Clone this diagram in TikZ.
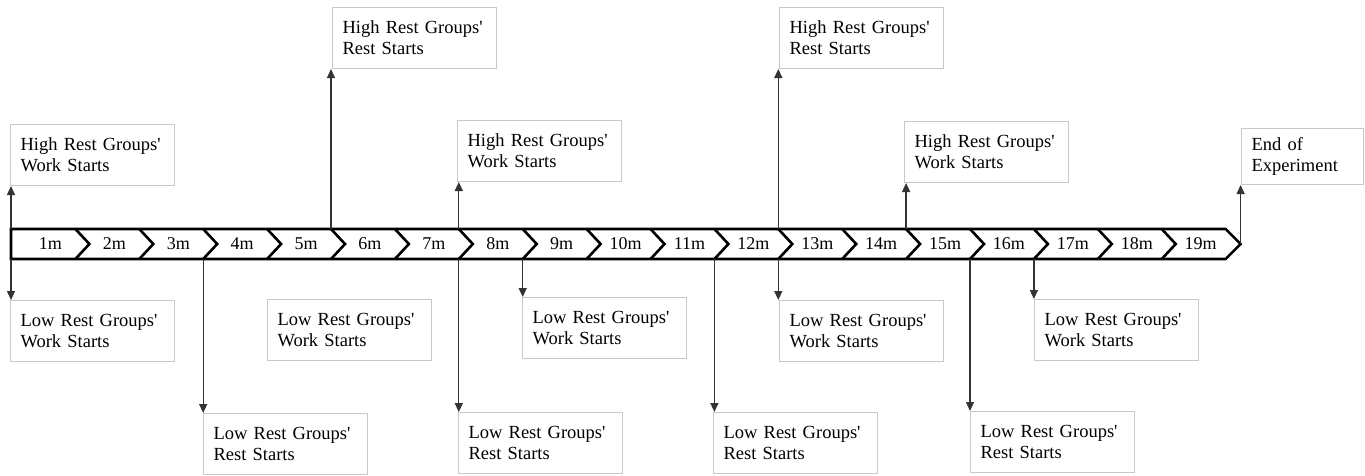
\documentclass[tikz,border=0pt]{standalone}
\usepackage{fontspec}
\setmainfont{Liberation Serif}
\usetikzlibrary{arrows.meta,positioning,calc}
\definecolor{boxgr}{HTML}{C8C8C8}
\definecolor{arr}{HTML}{333333}
\newcommand{\q}{\textquotesingle}

\begin{document}
\begin{tikzpicture}[x=1pt,y=-1pt,
   evbox/.style={draw=boxgr,line width=1.2pt,fill=white,
                 font=\fontsize{18.5}{21.5}\selectfont,align=left,
                 text width=144pt,inner xsep=10pt,inner ysep=4pt,minimum height=61pt},
   endbox/.style={evbox,text width=102pt,minimum height=56pt},
   tick/.style={draw=arr,line width=1.3pt,-{Triangle[length=9pt,width=8pt]}},
   seg/.style={font=\fontsize{18}{20}\selectfont}]
  \useasboundingbox (0,0) rectangle (1365,475);
  % timeline bar
  \def\dx{63.9}
  \coordinate (t0) at (11,229);
  \coordinate (b0) at (11,259);
  \foreach \k in {1,...,19}{
    \coordinate (t\k) at ({11.5+\dx*\k},229);
    \coordinate (b\k) at ({11.5+\dx*\k},259);
  }
  \coordinate (tip) at ($(t19)!0.5!(b19)+(15,0)$);
  \draw[line width=2.6pt,line join=miter] (t0) -- (t19) -- (tip) -- (b19) -- (b0) -- cycle;
  \foreach \k in {1,...,18}{
    \draw[line width=2.6pt] (t\k) -- ($(t\k)!0.5!(b\k)+(14,0)$) -- (b\k);
  }
  \foreach \k in {1,...,19}{
    \node[seg] (m\k) at ({11.5+\dx*(\k-0.5)+7},244) {\k m};
  }
  % events above
  \node[evbox,anchor=south west] (hw1) at (10,186) {High Rest Groups\q\\Work Starts};
  \node[evbox,anchor=south west] (hr1) at (332,69) {High Rest Groups\q\\Rest Starts};
  \node[evbox,anchor=south west] (hw2) at (457,182) {High Rest Groups\q\\Work Starts};
  \node[evbox,anchor=south west] (hr2) at (779,69) {High Rest Groups\q\\Rest Starts};
  \node[evbox,anchor=south west] (hw3) at (904,183) {High Rest Groups\q\\Work Starts};
  \node[endbox,anchor=south west] (end) at (1241,185) {End of\\Experiment};
  % events below
  \node[evbox,anchor=north west] (lw1) at (10,300) {Low Rest Groups\q\\Work Starts};
  \node[evbox,anchor=north west] (lr1) at (203,413) {Low Rest Groups\q\\Rest Starts};
  \node[evbox,anchor=north west] (lw2) at (267,299) {Low Rest Groups\q\\Work Starts};
  \node[evbox,anchor=north west] (lr2) at (458,412) {Low Rest Groups\q\\Rest Starts};
  \node[evbox,anchor=north west] (lw3) at (522,297) {Low Rest Groups\q\\Work Starts};
  \node[evbox,anchor=north west] (lr3) at (713,412) {Low Rest Groups\q\\Rest Starts};
  \node[evbox,anchor=north west] (lw4) at (779,300) {Low Rest Groups\q\\Work Starts};
  \node[evbox,anchor=north west] (lr4) at (970,411) {Low Rest Groups\q\\Rest Starts};
  \node[evbox,anchor=north west] (lw5) at (1034,299) {Low Rest Groups\q\\Work Starts};
  % arrows
  \draw[tick] (t0) -- (t0 |- hw1.south);
  \draw[tick] (t5) -- (t5 |- hr1.south);
  \draw[tick] (t7) -- (t7 |- hw2.south);
  \draw[tick] (t12) -- (t12 |- hr2.south);
  \draw[tick] (t14) -- (t14 |- hw3.south);
  \draw[tick] (tip) -- (tip |- end.south);
  \draw[tick] (b0) -- (b0 |- lw1.north);
  \draw[tick] (b3) -- (b3 |- lr1.north);
  \draw[tick] (b7) -- (b7 |- lr2.north);
  \draw[tick] (b8) -- (b8 |- lw3.north);
  \draw[tick] (b11) -- (b11 |- lr3.north);
  \draw[tick] (b12) -- (b12 |- lw4.north);
  \draw[tick] (b15) -- (b15 |- lr4.north);
  \draw[tick] (b16) -- (b16 |- lw5.north);
\end{tikzpicture}
\end{document}
